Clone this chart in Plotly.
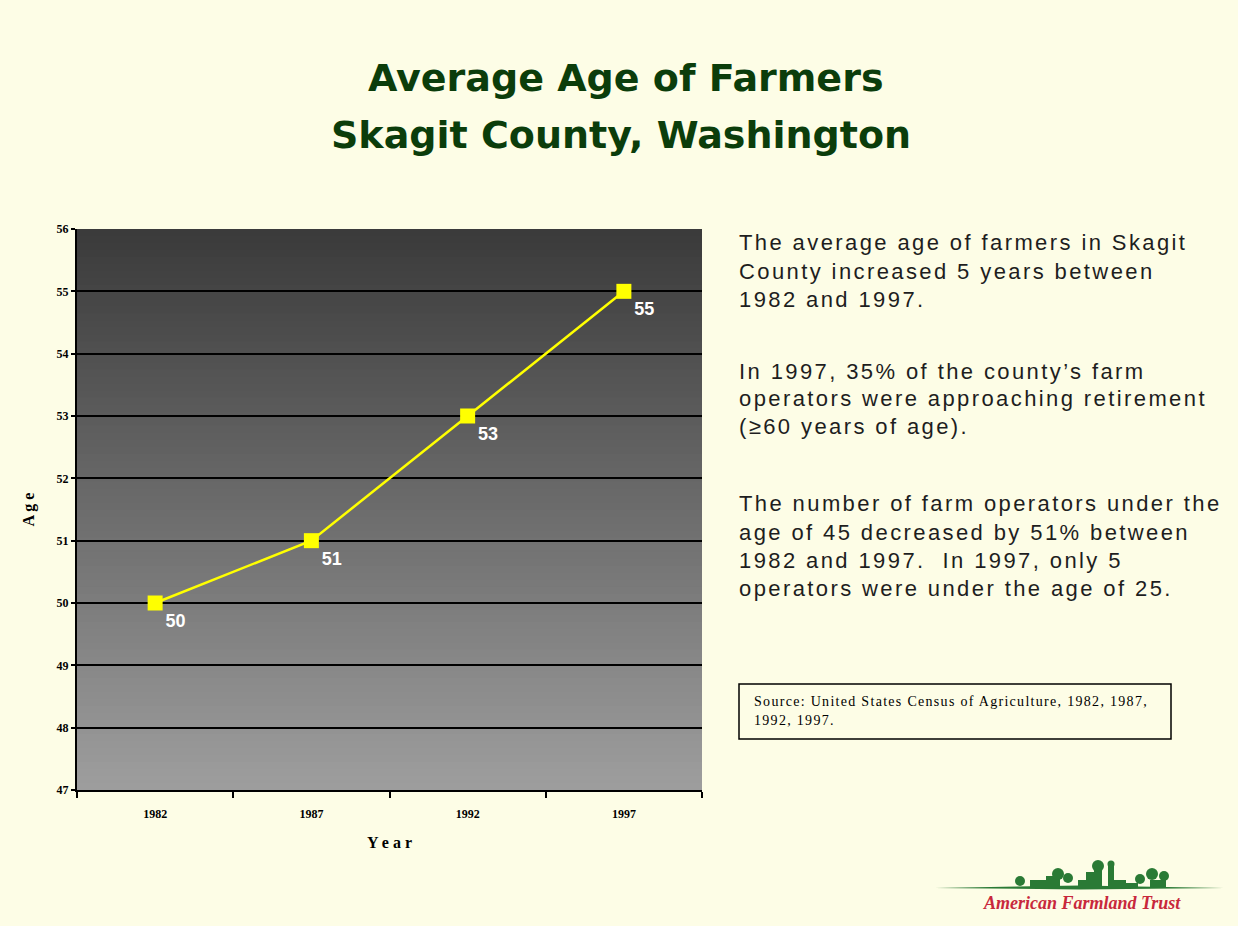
import plotly.graph_objects as go

years = ["1982", "1987", "1992", "1997"]
ages = [50, 51, 53, 55]
y_ticks = [47, 48, 49, 50, 51, 52, 53, 54, 55, 56]

W, H = 1238, 926
L, R, T, B = 77, 702, 229, 790

def px(x):
    return (x - L) / (R - L)

def py(y):
    return (B - y) / (B - T)

fig = go.Figure()

fig.add_trace(go.Scatter(
    x=years, y=ages, mode="lines+markers+text",
    line=dict(color="#ffff00", width=2.5),
    marker=dict(symbol="square", size=15, color="#ffff00"),
    text=[str(a) for a in ages], textposition="bottom right",
    textfont=dict(family="Liberation Sans Narrow, Liberation Sans", size=18,
                  color="white", weight="bold"),
    cliponaxis=False, showlegend=False,
))

shapes = []
# gradient background bands
n = 80
top_c = (58, 58, 58)
bot_c = (158, 158, 158)
for i in range(n):
    f0 = i / n
    f1 = (i + 1) / n
    t = (i + 0.5) / n
    c = tuple(int(round(top_c[k] + (bot_c[k] - top_c[k]) * t)) for k in range(3))
    shapes.append(dict(type="rect", xref="paper", yref="paper",
                       x0=0, x1=1, y0=max(0, 1 - f1 - 0.004), y1=1 - f0,
                       fillcolor="rgb(%d,%d,%d)" % c, line=dict(width=0),
                       layer="below"))
# source box
shapes.append(dict(type="rect", xref="paper", yref="paper",
                   x0=px(739), x1=px(1171), y0=py(739), y1=py(684),
                   line=dict(color="black", width=1.5), fillcolor="rgba(0,0,0,0)"))
# logo ground line (tapered)
shapes.append(dict(type="path", xref="paper", yref="paper",
                   path="M %f,%f L %f,%f L %f,%f L %f,%f Z" % (
                       px(935), py(888), px(1080), py(885.5), px(1224), py(888), px(1080), py(889.5)),
                   fillcolor="#2a7a35", line=dict(width=0)))
# logo farm silhouette
green = "#2a7a35"
for (x0, x1, y0) in [(1030, 1046, 880), (1046, 1060, 876), (1078, 1086, 880),
                     (1086, 1094, 872), (1094, 1102, 868), (1108, 1114, 866),
                     (1114, 1126, 880), (1126, 1138, 883), (1150, 1166, 880)]:
    shapes.append(dict(type="rect", xref="paper", yref="paper",
                       x0=px(x0), x1=px(x1), y0=py(887), y1=py(y0),
                       fillcolor=green, line=dict(width=0)))
for (cx, cy, r) in [(1020, 881, 5), (1058, 874, 6), (1068, 878, 5), (1098, 866, 6),
                    (1111, 864, 3.5), (1140, 879, 5), (1152, 874, 6), (1164, 876, 5)]:
    shapes.append(dict(type="circle", xref="paper", yref="paper",
                       x0=px(cx - r), x1=px(cx + r), y0=py(cy + r), y1=py(cy - r),
                       fillcolor=green, line=dict(width=0)))

para_font = dict(family="Liberation Sans", size=22, color="#1e1e1e")
def sp(s, ls):
    return '<span style="letter-spacing:%spx">%s</span>' % (ls, s)

annotations = [
    dict(text="<b>Average Age of Farmers</b>", x=px(626), y=py(78),
         xref="paper", yref="paper", showarrow=False, xanchor="center", yanchor="middle",
         font=dict(family="DejaVu Sans", size=38, color="#0b3d0b")),
    dict(text="<b>Skagit County, Washington</b>", x=px(621), y=py(135),
         xref="paper", yref="paper", showarrow=False, xanchor="center", yanchor="middle",
         font=dict(family="DejaVu Sans", size=38, color="#0b3d0b")),
]

para_lines = [
    ("The average age of farmers in Skagit", 250),
    ("County increased 5 years between", 278),
    ("1982 and 1997.", 306),
    ("In 1997, 35% of the county\u2019s farm", 378),
    ("operators were approaching retirement", 405),
    ("(\u226560 years of age).", 433),
    ("The number of farm operators under the", 510),
    ("age of 45 decreased by 51% between", 539),
    ("1982 and 1997.  In 1997, only 5", 567),
    ("operators were under the age of 25.", 595),
]
for s, base in para_lines:
    annotations.append(dict(text=sp(s, 2.4), x=px(737), y=py(base - 7),
                            xref="paper", yref="paper", showarrow=False,
                            xanchor="left", yanchor="middle", align="left",
                            font=para_font))

annotations += [
    dict(text=sp("Source: United States Census of Agriculture, 1982, 1987,", 1.3),
         x=px(752), y=py(701), xref="paper", yref="paper", showarrow=False,
         xanchor="left", yanchor="middle", align="left",
         font=dict(family="Liberation Serif", size=14, color="black")),
    dict(text=sp("1992, 1997.", 1.3),
         x=px(752), y=py(720), xref="paper", yref="paper", showarrow=False,
         xanchor="left", yanchor="middle", align="left",
         font=dict(family="Liberation Serif", size=14, color="black")),
    dict(text="<i><b>American Farmland Trust</b></i>", x=px(1082), y=py(903),
         xref="paper", yref="paper", showarrow=False, xanchor="center", yanchor="middle",
         font=dict(family="Liberation Serif", size=18, color="#c8283c")),
]

fig.update_layout(
    width=W, height=H,
    margin=dict(l=L, r=W - R, t=T, b=H - B),
    paper_bgcolor="#fdfde6",
    plot_bgcolor="rgba(0,0,0,0)",
    shapes=shapes,
    annotations=annotations,
    xaxis=dict(type="category", categoryorder="array", categoryarray=years,
               range=[-0.5, 3.5], tickson="boundaries", ticks="outside",
               ticklen=6, tickcolor="black", tickwidth=1.5, showline=True, linecolor="black",
               linewidth=2, showgrid=False, zeroline=False, ticklabelstandoff=12,
               tickfont=dict(family="Liberation Serif", size=12, color="black", weight="bold"),
               title=dict(text="<b>Y e a r</b>", standoff=16,
                          font=dict(family="Liberation Serif", size=16, color="black"))),
    yaxis=dict(range=[47, 56], tickvals=y_ticks, ticks="outside", ticklen=4,
               tickcolor="black", tickwidth=1.5, showline=True, linecolor="black", linewidth=2,
               showgrid=True, gridcolor="black", gridwidth=1.5, zeroline=False,
               tickfont=dict(family="Liberation Serif", size=12, color="black", weight="bold"),
               title=dict(text="<b>A g e</b>", standoff=18,
                          font=dict(family="Liberation Serif", size=16, color="black"))),
)

fig.write_html("out.html", config={"displayModeBar": False},
               post_script="document.body.style.margin='0';document.body.style.background='#fdfde6';")
